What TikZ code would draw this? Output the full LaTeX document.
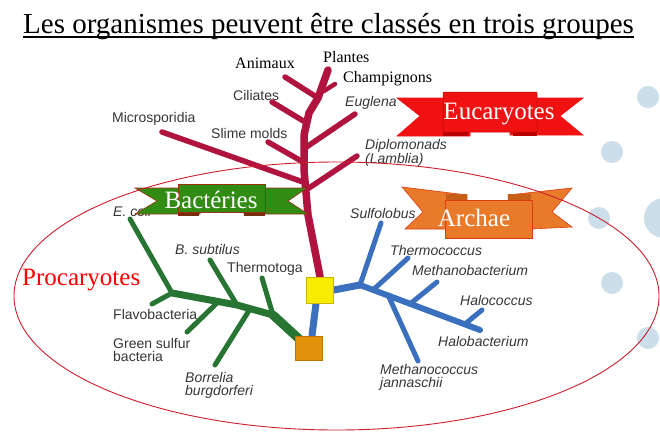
\documentclass[tikz,border=0pt]{standalone}
\usepackage{fontspec}
\setmainfont{Liberation Serif}
\setsansfont{Liberation Sans}
\definecolor{trred}{RGB}{176,20,62}
\definecolor{trgreen}{RGB}{40,116,50}
\definecolor{trblue}{RGB}{58,112,190}
\definecolor{lbl}{RGB}{55,55,55}
\definecolor{dotblue}{RGB}{204,222,233}
\definecolor{bacgreen}{RGB}{50,140,20}
\definecolor{bacedge}{RGB}{150,50,20}
\definecolor{bacfold}{RGB}{120,45,15}
\definecolor{eucred}{RGB}{240,18,18}
\definecolor{eucdark}{RGB}{185,0,0}
\definecolor{arcor}{RGB}{232,122,42}
\definecolor{arcedge}{RGB}{220,60,20}
\definecolor{arcfold}{RGB}{200,95,25}
\definecolor{ellred}{RGB}{205,30,45}
\definecolor{sqyellow}{RGB}{247,236,0}
\definecolor{sqyedge}{RGB}{200,185,0}
\definecolor{sqorange}{RGB}{226,145,10}
\definecolor{sqoedge}{RGB}{190,115,0}
\begin{document}
\begin{tikzpicture}[x=1pt,y=-1pt,
  lab/.style={inner sep=0pt, anchor=west, text=lbl, font=\sffamily\fontsize{14}{13}\selectfont, align=left},
  ilab/.style={lab, font=\sffamily\itshape\fontsize{14}{13}\selectfont},
  slab/.style={inner sep=0pt, anchor=west, text=black, font=\fontsize{16}{18}\selectfont},
  redbr/.style={draw=trred, line width=5.5pt, line cap=round, line join=round},
  grnbr/.style={draw=trgreen, line width=5pt, line cap=round, line join=round},
  blubr/.style={draw=trblue, line width=5pt, line cap=round, line join=round},
  bantext/.style={inner sep=0pt, text=white, font=\fontsize{25}{25}\selectfont},
  dot/.style={fill=dotblue, draw=none}
]
\useasboundingbox (0,0) rectangle (660,442);
\fill[white] (0,0) rectangle (660,442);

% background dots
\fill[dot] (648,97) circle (11);
\fill[dot] (612,152) circle (11);
\fill[dot] (599,218) circle (11);
\fill[dot] (664,218) circle (20);
\fill[dot] (612,283) circle (11);
\fill[dot] (648,338) circle (11);

% title
\node[inner sep=0pt, anchor=base west, font=\fontsize{29}{30}\selectfont] (title) at (23,33) {Les organismes peuvent être classés en trois groupes};
\draw[line width=1.3pt] ([yshift=-4]title.base west) -- ([yshift=-4]title.base east);

% squares
\node[draw=sqyedge, fill=sqyellow, minimum width=27pt, minimum height=26pt, inner sep=0pt, line width=0.8pt] (ysq) at (320,290) {};
\node[draw=sqoedge, fill=sqorange, minimum width=27pt, minimum height=24pt, inner sep=0pt, line width=0.8pt] (osq) at (309,348) {};

% red tree coordinates
\coordinate (t1) at (308,215);
\coordinate (t2) at (304,170);
\coordinate (t3) at (304,135);
\coordinate (t4) at (309,113);
\coordinate (jAni) at (318,98);
\coordinate (plTop) at (328,70);
\coordinate (jDip) at (306,190);
\coordinate (jMic) at (303,182);
\coordinate (jSli) at (303,162);
\coordinate (jEug) at (305,148);
\coordinate (jCil) at (305,122);
\coordinate (jCha) at (324,91);
\coordinate (eDip) at (357,156);
\coordinate (eMic) at (162,132);
\coordinate (eSli) at (268,142);
\coordinate (eEug) at (355,114);
\coordinate (eCil) at (272,102);
\coordinate (eAni) at (285,77);
\coordinate (eCha) at (335,84);

% blue tree coordinates
\coordinate (jB0) at (360,285);
\coordinate (eSul) at (381,223);
\coordinate (eHalob) at (480,330);
\coordinate (jThe) at (373,290);
\coordinate (eThe) at (408,258);
\coordinate (jMetb) at (410,304);
\coordinate (eMetb) at (437,282);
\coordinate (jHaloc) at (465,324);
\coordinate (eHaloc) at (482,310);
\coordinate (jMetc) at (388,295);
\coordinate (eMetc) at (418,361);

% green tree coordinates
\coordinate (jG0) at (172,293);
\coordinate (jG1) at (237,305);
\coordinate (jG2) at (273,315);
\coordinate (eEco) at (130,219);
\coordinate (eFla) at (152,304);
\coordinate (jGs) at (218,302);
\coordinate (eGs) at (187,332);
\coordinate (eBs) at (210,260);
\coordinate (jBor) at (250,309);
\coordinate (eBor) at (215,365);
\coordinate (eTht) at (262,278);

% red branches
\draw[redbr, line width=7.5pt] (ysq.north) -- (t1) -- (t2) -- (t3) -- (t4) -- (jAni) -- (plTop);
\draw[redbr] (jDip) -- (eDip);
\draw[redbr] (jMic) -- (eMic);
\draw[redbr] (jSli) -- (eSli);
\draw[redbr] (jEug) -- (eEug);
\draw[redbr] (jCil) -- (eCil);
\draw[redbr] (jAni) -- (eAni);
\draw[redbr, line width=4.5pt] (jCha) -- (eCha);

% blue branches
\draw[blubr, line width=7pt] ([xshift=-4]ysq.south) -- ([xshift=3]osq.north);
\draw[blubr, line width=7pt] (ysq.east) -- (jB0);
\draw[blubr, line width=6pt] (jB0) -- (eHalob);
\draw[blubr] (jB0) -- (eSul);
\draw[blubr] (jThe) -- (eThe);
\draw[blubr] (jMetb) -- (eMetb);
\draw[blubr] (jHaloc) -- (eHaloc);
\draw[blubr] (jMetc) -- (eMetc);

% green branches
\draw[grnbr, line width=9pt] (osq.center) -- (jG2);
\draw[grnbr, line width=7pt] (jG2) -- (jG1) -- (jG0);
\draw[grnbr] (jG0) -- (eEco);
\draw[grnbr] (jG0) -- (eFla);
\draw[grnbr] (jGs) -- (eGs);
\draw[grnbr] (jG1) -- (eBs);
\draw[grnbr] (jBor) -- (eBor);
\draw[grnbr] (jG2) -- (eTht);

% redraw squares on top
\node[draw=sqyedge, fill=sqyellow, minimum width=27pt, minimum height=26pt, inner sep=0pt, line width=0.8pt] at (ysq) {};
\node[draw=sqoedge, fill=sqorange, minimum width=27pt, minimum height=24pt, inner sep=0pt, line width=0.8pt] at (osq) {};

% labels (eukaryotes)
\node[slab] (lAni) at (235,63) {Animaux};
\node[slab] (lPla) at (323,57) {Plantes};
\node[slab] (lCha) at (343,79) {Champignons};
\node[lab] (lCil) at (233,95) {Ciliates};
\node[lab] (lMic) at (112,119) {Microsporidia};
\node[lab] (lSli) at (211,133) {Slime molds};
\node[ilab] (lEug) at (345,103) {Euglena};
\node[ilab] (lDip) at (365,152.5) {Diplomonads\\(Lamblia)};

% labels (bacteria)
\node[ilab] (lEco) at (113,211) {E. coli};
\node[ilab] (lBs) at (175,249) {B. subtilus};
\node[lab] (lTht) at (227,269) {Thermotoga};
\node[lab] (lFla) at (113,314) {Flavobacteria};
\node[lab] (lGs) at (113,349.5) {Green sulfur\\bacteria};
\node[ilab] (lBor) at (185,385.5) {Borrelia\\burgdorferi};

% labels (archaea)
\node[ilab] (lSul) at (350,213) {Sulfolobus};
\node[ilab] (lThe) at (390,250) {Thermococcus};
\node[ilab] (lMetb) at (412,270) {Methanobacterium};
\node[ilab] (lHaloc) at (460,300) {Halococcus};
\node[ilab] (lHalob) at (438,341) {Halobacterium};
\node[ilab] (lMetc) at (380,377.5) {Methanococcus\\jannaschii};

% Procaryotes
\node[inner sep=0pt, anchor=west, text=red, font=\fontsize{25}{25}\selectfont] (lPro) at (22,280) {Procaryotes};

% Bacteries banner
\filldraw[fill=bacgreen, draw=bacedge, line width=0.6pt] (135,188) -- (200,188) -- (200,214) -- (135,214) -- (157,201) -- cycle;
\filldraw[fill=bacgreen, draw=bacedge, line width=0.6pt] (244,188) -- (307,188) -- (288,201) -- (308,214) -- (244,214) -- cycle;
\fill[bacfold] (178,211) rectangle (199,216);
\fill[bacfold] (244,211) rectangle (265,216);
\filldraw[fill=bacgreen, draw=bacedge, line width=1pt] (178,184) rectangle (265,212);
\node[bantext] (bBac) at (211,200) {Bactéries};

% Eucaryotes banner
\filldraw[fill=eucred, draw=eucred, line width=0.6pt] (397,98) -- (470,98) -- (470,136) -- (397,136) -- (420,116) -- cycle;
\filldraw[fill=eucred, draw=eucred, line width=0.6pt] (510,98) -- (583,98) -- (560,116) -- (583,135) -- (510,135) -- cycle;
\fill[eucdark] (443,131) rectangle (468,136);
\fill[eucdark] (513,131) rectangle (537,136);
\filldraw[fill=eucred, draw=eucdark, line width=0.5pt, rounded corners=1pt] (443,92) rectangle (537,132);
\node[bantext] (bEuc) at (499,114) {Eucaryotes};

% Archae banner
\filldraw[fill=arcor, draw=arcedge, line width=0.6pt] (402,187) -- (467,195) -- (467,229) -- (405,229) -- (423,212) -- cycle;
\filldraw[fill=arcor, draw=arcedge, line width=0.6pt] (508,195) -- (572,188) -- (552,212) -- (572,227) -- (510,230) -- cycle;
\fill[arcfold] (446,194) rectangle (467,200);
\fill[arcfold] (508,194) rectangle (531,200);
\filldraw[fill=arcor, draw=arcedge, line width=0.8pt] (445,200) rectangle (532,238);
\node[bantext] (bArc) at (474,218) {Archae};

% procaryote ellipse
\draw[ellred, line width=0.9pt] (336.5,296) ellipse [x radius=322.5, y radius=134];
\end{tikzpicture}
\end{document}
